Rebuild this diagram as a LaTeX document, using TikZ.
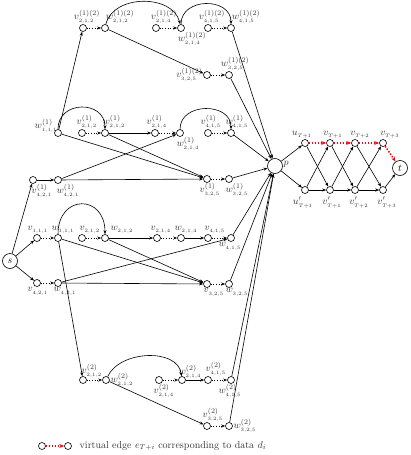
\documentclass[tikz,border=0pt]{standalone}
\usetikzlibrary{arrows.meta}
\begin{document}
\begin{tikzpicture}[x=1pt,y=1pt,
 vn/.style={circle,draw,line width=0.6pt,minimum size=7pt,inner sep=0pt},
 bign/.style={circle,draw,line width=0.6pt,minimum size=15pt,inner sep=0pt},
 lbl/.style={text=black!80,inner sep=0.5pt},
 ed/.style={-{Stealth[length=4pt,width=3pt]},line width=0.6pt},
 dt/.style={ed,dotted,line width=0.9pt},
 virt/.style={-{Stealth[length=5pt,width=4pt]},red,line width=1.5pt,dash pattern=on 1.5pt off 1.5pt},
]
\useasboundingbox (0,0) rectangle (411,-455);

% ---------- group (1)(2)
\node[vn,label={[lbl,xshift=4pt]above:{$v^{(1)(2)}_{_{2,1,2}}$}}] (Av212) at (83,-28) {};
\node[vn,label={[lbl,xshift=15pt]above:{$w^{(1)(2)}_{_{2,1,2}}$}}] (Aw212) at (105,-28) {};
\node[vn,label={[lbl,xshift=8pt]above:{$v^{(1)(2)}_{_{2,1,4}}$}}] (Av214) at (156,-28) {};
\node[vn,label={[lbl,xshift=11pt]below:{$w^{(1)(2)}_{_{2,1,4}}$}}] (Aw214) at (181,-28) {};
\node[vn,label={[lbl,xshift=4pt]above:{$v^{(1)(2)}_{_{4,1,5}}$}}] (Av415) at (208,-28) {};
\node[vn,label={[lbl,xshift=15pt]above:{$w^{(1)(2)}_{_{4,1,5}}$}}] (Aw415) at (231,-28) {};
\node[vn,label={[lbl]left:{$v^{(1)(2)}_{_{3,2,5}}$}}] (Av325) at (207,-75) {};
\node[vn,label={[lbl,xshift=6pt]above:{$w^{(1)(2)}_{_{3,2,5}}$}}] (Aw325) at (229,-75) {};

% ---------- group (1)
\node[vn,label={[lbl,xshift=3pt,yshift=-3pt]above left:{$w^{(1)}_{_{1,1,1}}$}}] (Bw111) at (58,-133) {};
\node[vn,label={[lbl,xshift=5pt]above:{$v^{(1)}_{_{2,1,2}}$}}] (Bv212) at (82,-133) {};
\node[vn,label={[lbl,xshift=9pt]above:{$w^{(1)}_{_{2,1,2}}$}}] (Bw212) at (105,-133) {};
\node[vn,label={[lbl,xshift=9pt]below:{$v^{(1)}_{_{4,2,1}}$}}] (Bv421) at (33,-180) {};
\node[vn,label={[lbl,xshift=10pt]below:{$w^{(1)}_{_{4,2,1}}$}}] (Bw421) at (58,-180) {};
\node[vn,label={[lbl,xshift=2pt]above:{$v^{(1)}_{_{2,1,4}}$}}] (Bv214) at (155,-133) {};
\node[vn,label={[lbl,xshift=8pt]below:{$w^{(1)}_{_{2,1,4}}$}}] (Bw214) at (180,-133) {};
\node[vn,label={[lbl,xshift=3pt]above:{$v^{(1)}_{_{4,1,5}}$}}] (Bv415) at (208,-133) {};
\node[vn,label={[lbl,xshift=6pt]above:{$w^{(1)}_{_{4,1,5}}$}}] (Bw415) at (231,-133) {};
\node[vn,label={[lbl,xshift=3pt]below:{$v^{(1)}_{_{3,2,5}}$}}] (Bv325) at (207,-179) {};
\node[vn,label={[lbl,xshift=8pt]below:{$w^{(1)}_{_{3,2,5}}$}}] (Bw325) at (229,-179) {};

% ---------- middle group
\node[bign] (s) at (10,-261) {$s$};
\node[vn,label={[lbl,xshift=1pt]above:{$v_{_{1,1,1}}$}}] (Cv111) at (37,-238) {};
\node[vn,label={[lbl,xshift=5pt]above:{$w_{_{1,1,1}}$}}] (Cw111) at (58,-238) {};
\node[vn,label={[lbl,xshift=8pt]above:{$v_{_{2,1,2}}$}}] (Cv212) at (82,-238) {};
\node[vn,label={[lbl,xshift=17pt]above:{$w_{_{2,1,2}}$}}] (Cw212) at (105,-238) {};
\node[vn,label={[lbl,xshift=1pt]below:{$v_{_{4,2,1}}$}}] (Cv421) at (37,-283) {};
\node[vn,label={[lbl,xshift=7pt]below:{$w_{_{4,2,1}}$}}] (Cw421) at (58,-283) {};
\node[vn,label={[lbl,xshift=4pt]above:{$v_{_{2,1,4}}$}}] (Cv214) at (157,-238) {};
\node[vn,label={[lbl,xshift=5pt]above:{$w_{_{2,1,4}}$}}] (Cw214) at (181,-238) {};
\node[vn,label={[lbl,xshift=7pt]above:{$v_{_{4,1,5}}$}}] (Cv415) at (208,-238) {};
\node[vn,label={[lbl,xshift=-1pt]below:{$w_{_{4,1,5}}$}}] (Cw415) at (231,-238) {};
\node[vn,label={[lbl,xshift=7pt]below:{$v_{_{3,2,5}}$}}] (Cv325) at (207,-284) {};
\node[vn,label={[lbl,xshift=8pt]below:{$w_{_{3,2,5}}$}}] (Cw325) at (229,-284) {};

% ---------- group (2)
\node[vn,label={[lbl,xshift=9pt,yshift=-2pt]above:{$v^{(2)}_{_{2,1,2}}$}}] (Dv212) at (83,-380) {};
\node[vn,label={[lbl]right:{$w^{(2)}_{_{2,1,2}}$}}] (Dw212) at (106,-380) {};
\node[vn,label={[lbl,xshift=5pt]below:{$v^{(2)}_{_{2,1,4}}$}}] (Dv214) at (159,-380) {};
\node[vn,label={[lbl,xshift=8pt,yshift=-3pt]above:{$w^{(2)}_{_{2,1,4}}$}}] (Dw214) at (182,-380) {};
\node[vn,label={[lbl,xshift=8pt]above:{$v^{(2)}_{_{4,1,5}}$}}] (Dv415) at (208,-380) {};
\node[vn,label={[lbl,xshift=-1pt]below:{$w^{(2)}_{_{4,1,5}}$}}] (Dw415) at (231,-380) {};
\node[vn,label={[lbl,xshift=6pt]above:{$v^{(2)}_{_{3,2,5}}$}}] (Dv325) at (207,-426) {};
\node[vn,label={[lbl]right:{$w^{(2)}_{_{3,2,5}}$}}] (Dw325) at (229,-426) {};

% ---------- right part
\node[bign,label={[lbl,yshift=2pt]right:{$p$}}] (p) at (275,-166) {};
\node[bign] (t) at (400,-168) {$t$};
\node[vn,label={[lbl,xshift=-3pt]above:{$u_{_{T+1}}$}}] (u1) at (305,-143) {};
\node[vn,label={[lbl,xshift=3pt]above:{$v_{_{T+1}}$}}] (v1) at (330,-143) {};
\node[vn,label={[lbl,xshift=5pt]above:{$v_{_{T+2}}$}}] (v2) at (355,-143) {};
\node[vn,label={[lbl,xshift=7pt]above:{$v_{_{T+3}}$}}] (v3) at (383,-143) {};
\node[vn,label={[lbl,xshift=-2pt,yshift=-2pt]below:{$u'_{_{T+1}}$}}] (u1p) at (305,-190) {};
\node[vn,label={[lbl,xshift=2pt,yshift=-2pt]below:{$v'_{_{T+1}}$}}] (v1p) at (330,-190) {};
\node[vn,label={[lbl,xshift=4pt,yshift=-2pt]below:{$v'_{_{T+2}}$}}] (v2p) at (355,-190) {};
\node[vn,label={[lbl,xshift=4pt,yshift=-2pt]below:{$v'_{_{T+3}}$}}] (v3p) at (383,-190) {};

% ---------- legend
\node[vn] (L1) at (42,-446) {};
\node[vn] (L2) at (68,-446) {};
\node[lbl,anchor=west] (Ltxt) at (79,-446) {virtual edge $e_{T+i}$ corresponding to data $d_i$};
\draw[virt] (L1) -- (L2);

% ---------- edges group (1)(2)
\draw[dt] (Av212) -- (Aw212);
\draw[ed] (Aw212) .. controls +(8,34) and +(-8,34) .. (Aw214);
\draw[dt] (Av214) -- (Aw214);
\draw[ed] (Aw214) .. controls +(0,31) and +(0,31) .. (Aw415);
\draw[dt] (Av415) -- (Aw415);
\draw[ed] (Aw212) -- (Av325);
\draw[dt] (Av325) -- (Aw325);
\draw[ed] (Aw415) -- (p);
\draw[ed] (Aw325) -- (p);
\draw[ed] (Bw111) -- (Av212);

% ---------- edges group (1)
\draw[ed] (s) -- (Bv421);
\draw[ed] (Bv421) -- (Bw421);
\draw[dt] (Bv212) -- (Bw212);
\draw[ed] (Bw111) .. controls +(0,33) and +(0,33) .. (Bw212);
\draw[ed] (Bw212) -- (Bv214);
\draw[dt] (Bv214) -- (Bw214);
\draw[ed] (Bw214) .. controls +(0,31) and +(0,31) .. (Bw415);
\draw[dt] (Bv415) -- (Bw415);
\draw[ed] (Bw111) -- (Bv325);
\draw[ed] (Bw212) -- (Bv325);
\draw[ed] (Bw421) -- (Bw214);
\draw[ed] (Bw421) -- (Bv325);
\draw[dt] (Bv325) -- (Bw325);
\draw[ed] (Bw415) -- (p);
\draw[ed] (Bw325) -- (p);

% ---------- edges middle group
\draw[ed] (s) -- (Cv111);
\draw[ed] (s) -- (Cv421);
\draw[dt] (Cv111) -- (Cw111);
\draw[dt] (Cv421) -- (Cw421);
\draw[dt] (Cv212) -- (Cw212);
\draw[ed] (Cw111) .. controls +(0,44) and +(0,44) .. (Cw212);
\draw[ed] (Cw212) -- (Cv214);
\draw[dt] (Cv214) -- (Cw214);
\draw[ed] (Cw214) -- (Cv415);
\draw[dt] (Cv415) -- (Cw415);
\draw[ed] (Cw111) -- (Cv325);
\draw[ed] (Cw212) -- (Cv325);
\draw[ed] (Cw421) -- (Cw415);
\draw[ed] (Cw421) -- (Cv325);
\draw[dt] (Cv325) -- (Cw325);
\draw[ed] (Cw415) -- (p);
\draw[ed] (Cw325) -- (p);
\draw[ed] (Cw111) -- (Dv212);

% ---------- edges group (2)
\draw[dt] (Dv212) -- (Dw212);
\draw[ed] (Dw212) .. controls +(14,30) and +(-4,32) .. (Dw214);
\draw[dt] (Dv214) -- (Dw214);
\draw[ed] (Dw214) -- (Dv415);
\draw[dt] (Dv415) -- (Dw415);
\draw[ed] (Dw212) -- (Dv325);
\draw[dt] (Dv325) -- (Dw325);
\draw[ed] (Dw415) -- (p);
\draw[ed] (Dw325) -- (p);

% ---------- right part edges
\draw[ed] (p) -- (u1);
\draw[ed] (p) -- (u1p);
\draw[virt] (u1) -- (v1);
\draw[virt] (v1) -- (v2);
\draw[virt] (v2) -- (v3);
\draw[virt] (v3) -- (t);
\draw[ed] (u1p) -- (v1p);
\draw[ed] (v1p) -- (v2p);
\draw[ed] (v2p) -- (v3p);
\draw[ed] (v3p) -- (t);
\draw[ed] (u1) -- (v1p);
\draw[ed] (u1p) -- (v1);
\draw[ed] (v1) -- (v2p);
\draw[ed] (v1p) -- (v2);
\draw[ed] (v2) -- (v3p);
\draw[ed] (v2p) -- (v3);
\end{tikzpicture}
\end{document}
